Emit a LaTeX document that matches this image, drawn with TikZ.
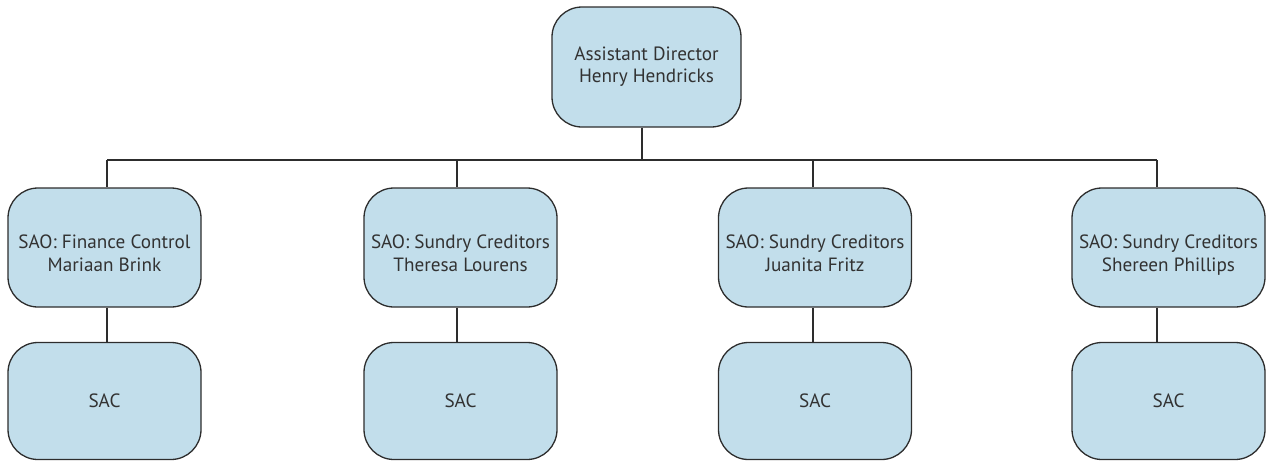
\documentclass[tikz,border=0pt]{standalone}
\usepackage{fontspec}
\setmainfont{PT Sans}
\definecolor{boxfill}{RGB}{194,222,235}
\definecolor{boxline}{RGB}{45,45,45}
\definecolor{txt}{RGB}{50,50,50}
% two centred lines, optionally lowered inside the box without changing its size
\newcommand{\twolines}[3][0pt]{\raisebox{#1}[\height][\depth]{\begin{tabular}{@{}c@{}}#2\\#3\end{tabular}}}
\begin{document}
\begin{tikzpicture}[x=1pt,y=-1pt,
  orgbox/.style={draw=boxline, line width=1.3pt, fill=boxfill, rounded corners=30pt,
    minimum width=193pt, minimum height=119pt, align=center, text=txt,
    font=\fontsize{19.2}{23}\selectfont, inner sep=0pt},
  link/.style={draw=boxline, line width=1.1pt}]
\renewcommand{\arraystretch}{0.98}
\setlength{\tabcolsep}{0pt}
\useasboundingbox (0,0) rectangle (1266,461);
% top
\node[orgbox, minimum width=189pt, minimum height=120pt] (ad) at (646.5,67) {\twolines{Assistant Director}{Henry Hendricks}};
% second row
\node[orgbox] (s1) at (104.5,247.5) {\twolines[-8pt]{SAO: Finance Control}{Mariaan Brink}};
\node[orgbox] (s2) at (460.5,247.5) {\twolines[-8pt]{SAO: Sundry Creditors}{Theresa Lourens}};
\node[orgbox] (s3) at (815,247.5) {\twolines[-8pt]{SAO: Sundry Creditors}{Juanita Fritz}};
\node[orgbox] (s4) at (1168.5,247.5) {\twolines[-8pt]{SAO: Sundry Creditors}{Shereen Phillips}};
% third row
\node[orgbox, minimum height=117pt] (c1) at (104.5,401) {SAC};
\node[orgbox, minimum height=117pt] (c2) at (460.5,401) {SAC};
\node[orgbox, minimum height=117pt] (c3) at (815,401) {SAC};
\node[orgbox, minimum height=117pt] (c4) at (1168.5,401) {SAC};
% joints on the bus
\coordinate (bus) at (642,160);
\coordinate (j1) at (107,160);
\coordinate (j2) at (457,160);
\coordinate (j3) at (813,160);
\coordinate (j4) at (1157,160);
\draw[link] (bus |- ad.south) -- (bus);
\draw[link] (j1) -- (j4);
\foreach \i in {1,...,4}{
  \draw[link] (j\i) -- (j\i |- s\i.north);
  \draw[link] (j\i |- s\i.south) -- (j\i |- c\i.north);
}
\end{tikzpicture}
\end{document}
